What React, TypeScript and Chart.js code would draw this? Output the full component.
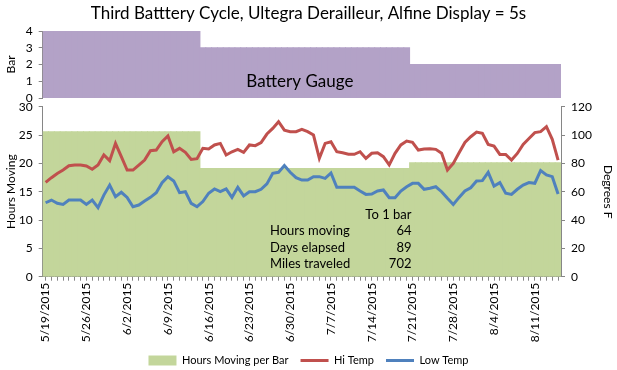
import React, { useEffect, useRef } from 'react';
import { Chart, registerables } from 'chart.js';

Chart.register(...registerables);

// ---------- data ----------
const firstDate = '5/19/2015';
const dayCount = 89;

const segmentStartDates = ['5/19/2015', '6/15/2015', '7/21/2015'];
const gaugeBars = [4, 3, 2];
const hoursPerBar = [25.6, 19.1, 20.1];

const hiTemp = [
  66.6, 69.9, 72.9, 75.3, 78.3, 78.8, 78.8, 78.1, 75.8, 78.8,
  85.9, 81.9, 94.1, 84.7, 75.3, 75.3, 78.8, 82.3, 88.9, 89.4,
  95.3, 99.3, 88.2, 90.6, 87.8, 82.8, 83.3, 90.6, 90.1, 93.0,
  94.1, 85.9, 88.2, 89.9, 87.8, 93.0, 92.5, 94.6, 100.7, 104.7,
  109.4, 103.5, 102.4, 102.4, 104.0, 102.4, 100.0, 83.5, 94.1, 95.3,
  88.2, 87.5, 86.4, 86.4, 88.2, 83.5, 87.1, 87.5, 84.7, 78.9,
  87.1, 93.0, 95.8, 94.9, 89.4, 90.1, 90.3, 89.9, 87.1, 75.3,
  80.0, 87.5, 94.8, 98.8, 102.1, 101.2, 93.4, 92.2, 86.3, 86.3,
  82.3, 87.0, 93.4, 97.6, 101.7, 102.4, 105.9, 97.0, 82.3,
];

const lowTemp = [
  52.2, 54.1, 51.8, 51.0, 54.1, 54.1, 54.1, 51.0, 54.1, 48.7,
  57.6, 64.7, 56.5, 59.6, 56.0, 49.4, 50.6, 53.4, 56.0, 59.3,
  66.3, 70.6, 67.6, 59.3, 60.0, 51.8, 49.4, 53.0, 58.9, 61.9,
  60.0, 61.9, 56.0, 63.1, 57.0, 60.0, 60.0, 61.7, 65.5, 73.0,
  73.7, 78.4, 73.7, 69.9, 68.2, 68.2, 70.6, 70.6, 69.4, 73.2,
  63.1, 63.1, 63.1, 63.1, 60.5, 58.1, 58.4, 60.5, 61.2, 55.8,
  55.8, 60.5, 63.5, 65.9, 65.9, 61.7, 62.4, 63.5, 60.0, 55.3,
  51.0, 56.0, 60.5, 62.8, 67.6, 67.8, 73.7, 64.0, 66.4, 58.9,
  58.1, 61.7, 64.7, 66.4, 65.9, 74.9, 71.8, 70.6, 58.4,
];

const summaryHeader = 'To 1 bar';
const summaryLabels = ['Hours moving', 'Days elapsed', 'Miles traveled'];
const summaryValues = ['64', '89', '702'];

const titleText = 'Third Batttery Cycle, Ultegra Derailleur, Alfine Display = 5s';

// ---------- derived tables ----------
const [fm, fd, fy] = firstDate.split('/').map(Number);
const firstMs = Date.UTC(fy, fm - 1, fd);
const dateLabels: string[] = Array.from({ length: dayCount }, (_, i) => {
  const d = new Date(firstMs + i * 86400000);
  return `${d.getUTCMonth() + 1}/${d.getUTCDate()}/${d.getUTCFullYear()}`;
});
const segStartIdx = segmentStartDates.map((d) => dateLabels.indexOf(d));
const expand = (levels: number[]) =>
  dateLabels.map((_, i) => {
    let s = 0;
    segStartIdx.forEach((st, k) => {
      if (i >= st) s = k;
    });
    return levels[s];
  });
const gaugeDaily = expand(gaugeBars);
const hoursDaily = expand(hoursPerBar);

// ---------- styles ----------
const FONT = 'Lato, "Open Sans", sans-serif';
const AXIS = '#868686';
const TXT = '#000000';
const LEFT_W = 42.7;
const RIGHT_W = 56;
const PURPLE = '#B3A2C7';
const GREEN = '#C3D69B';
const RED = '#C0504D';
const BLUE = '#4F81BD';

const batteryLabel = {
  id: 'batteryLabel',
  afterDatasetsDraw(chart: any) {
    const { ctx, chartArea, scales } = chart;
    ctx.save();
    ctx.font = `17px ${FONT}`;
    ctx.fillStyle = TXT;
    ctx.textAlign = 'center';
    ctx.textBaseline = 'middle';
    ctx.fillText('Battery Gauge', (chartArea.left + chartArea.right) / 2 - 2, scales.y.getPixelForValue(1));
    ctx.restore();
  },
};

const summaryBox = {
  id: 'summaryBox',
  afterDatasetsDraw(chart: any) {
    const { ctx, chartArea } = chart;
    const w = chartArea.right - chartArea.left;
    const h = chartArea.bottom - chartArea.top;
    const lx = chartArea.left + 0.4385 * w;
    const rx = chartArea.left + 0.7115 * w;
    const rowY = (k: number) => chartArea.bottom - h * (0.363 - 0.096 * k);
    ctx.save();
    ctx.font = `13px ${FONT}`;
    ctx.fillStyle = TXT;
    ctx.textBaseline = 'middle';
    ctx.textAlign = 'right';
    ctx.fillText(summaryHeader, rx, rowY(0));
    summaryLabels.forEach((lab, k) => {
      ctx.textAlign = 'left';
      ctx.fillText(lab, lx, rowY(k + 1));
      ctx.textAlign = 'right';
      ctx.fillText(summaryValues[k], rx, rowY(k + 1));
    });
    ctx.restore();
  },
};

const axisCommon = {
  grid: { drawOnChartArea: false, drawTicks: true, tickLength: 4, color: AXIS },
  border: { display: true, color: AXIS, width: 1 },
};

export default function App() {
  const topRef = useRef<HTMLCanvasElement>(null);
  const botRef = useRef<HTMLCanvasElement>(null);

  useEffect(() => {
    const top = new Chart(topRef.current as HTMLCanvasElement, {
      type: 'bar',
      data: {
        labels: dateLabels,
        datasets: [
          {
            label: 'Battery Gauge',
            data: gaugeDaily,
            backgroundColor: PURPLE,
            borderWidth: 0,
            barPercentage: 1,
            categoryPercentage: 1,
            inflateAmount: 0.5,
          } as any,
        ],
      },
      options: {
        responsive: false,
        animation: false,
        events: [],
        layout: { padding: { left: 0, right: 0, top: 0, bottom: 272 } },
        plugins: {
          legend: { display: false },
          tooltip: { enabled: false },
          title: {
            display: true,
            text: titleText,
            color: TXT,
            font: { family: FONT, size: 17, weight: 'normal' },
            padding: { top: 3, bottom: 7.6 },
          },
        },
        scales: {
          x: { display: false, offset: true },
          y: {
            ...axisCommon,
            min: 0,
            max: 4,
            ticks: { stepSize: 1, autoSkip: false, color: TXT, font: { family: FONT, size: 12 }, padding: 6 },
            title: { display: true, text: 'Bar', color: TXT, font: { family: FONT, size: 12 }, padding: { top: 4, bottom: 0 } },
            afterFit: (s: any) => {
              s.width = LEFT_W;
            },
          },
          yRight: {
            position: 'right',
            display: true,
            grid: { display: false, drawTicks: false },
            border: { display: false },
            ticks: { display: false },
            afterFit: (s: any) => {
              s.width = RIGHT_W;
            },
          },
        },
      } as any,
      plugins: [batteryLabel],
    });

    const bot = new Chart(botRef.current as HTMLCanvasElement, {
      type: 'bar',
      data: {
        labels: dateLabels,
        datasets: [
          {
            type: 'bar',
            label: 'Hours Moving per Bar',
            data: hoursDaily,
            backgroundColor: GREEN,
            borderColor: GREEN,
            borderWidth: 0,
            barPercentage: 1,
            categoryPercentage: 1,
            inflateAmount: 0.5,
            yAxisID: 'y',
            order: 2,
            pointStyle: 'rect',
          } as any,
          {
            type: 'line',
            label: 'Hi Temp',
            data: hiTemp,
            borderColor: RED,
            backgroundColor: RED,
            borderWidth: 3,
            pointRadius: 0,
            yAxisID: 'y2',
            order: 1,
            pointStyle: 'line',
          } as any,
          {
            type: 'line',
            label: 'Low Temp',
            data: lowTemp,
            borderColor: BLUE,
            backgroundColor: BLUE,
            borderWidth: 3,
            pointRadius: 0,
            yAxisID: 'y2',
            order: 0,
            pointStyle: 'line',
          } as any,
        ],
      },
      options: {
        responsive: false,
        animation: false,
        events: [],
        layout: { padding: { left: 0, right: 0, top: 106.7, bottom: -6 } },
        plugins: {
          tooltip: { enabled: false },
          legend: {
            position: 'bottom',
            labels: {
              usePointStyle: true,
              pointStyleWidth: 28,
              boxHeight: 10,
              padding: 12,
              color: TXT,
              font: { family: FONT, size: 11 },
              sort: (a: any, b: any) => a.datasetIndex - b.datasetIndex,
            },
          },
        },
        scales: {
          x: {
            ...axisCommon,
            offset: true,
            grid: { ...axisCommon.grid, offset: false },
            ticks: {
              autoSkip: false,
              minRotation: 90,
              maxRotation: 90,
              padding: 2,
              color: TXT,
              font: { family: FONT, size: 12 },
              callback: (_v: any, i: number) => (i % 7 === 0 ? dateLabels[i] : ''),
            },
            afterFit: (s: any) => {
              s.height = 66.3;
            },
          },
          y: {
            ...axisCommon,
            position: 'left',
            min: 0,
            max: 30,
            ticks: { stepSize: 5, color: TXT, font: { family: FONT, size: 12 }, padding: 6 },
            title: { display: true, text: 'Hours Moving', color: TXT, font: { family: FONT, size: 12 }, padding: { top: 4, bottom: 0 } },
            afterFit: (s: any) => {
              s.width = LEFT_W;
            },
          },
          y2: {
            ...axisCommon,
            position: 'right',
            min: 0,
            max: 120,
            ticks: { stepSize: 20, color: TXT, font: { family: FONT, size: 12 }, padding: 6 },
            title: { display: true, text: 'Degrees F', color: TXT, font: { family: FONT, size: 12 }, padding: { top: 2, bottom: 0 } },
            afterFit: (s: any) => {
              s.width = RIGHT_W;
            },
          },
        },
      } as any,
      plugins: [summaryBox],
    });

    return () => {
      top.destroy();
      bot.destroy();
    };
  }, []);

  const canvasStyle: React.CSSProperties = { position: 'absolute', left: 0, top: 0, width: 617, height: 370 };
  return (
    <div style={{ position: 'fixed', left: 0, top: 0, width: 617, height: 370, background: '#fff' }}>
      <canvas ref={topRef} width={617} height={370} style={canvasStyle} />
      <canvas ref={botRef} width={617} height={370} style={canvasStyle} />
    </div>
  );
}
